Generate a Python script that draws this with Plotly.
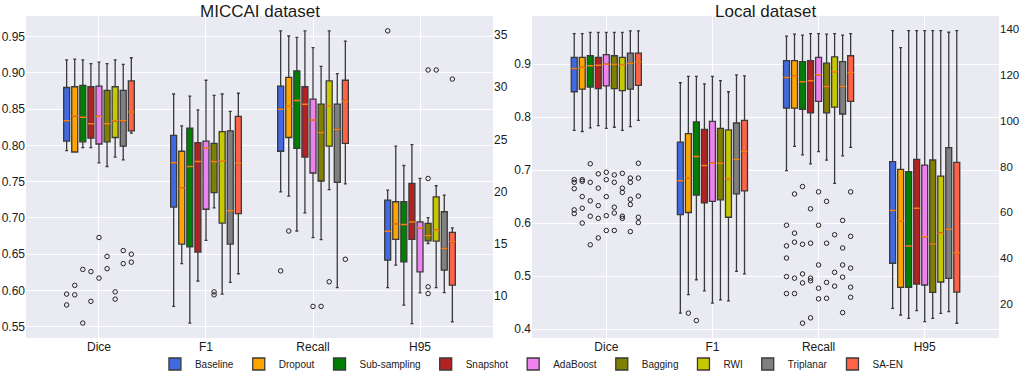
import plotly.graph_objects as go

methods = ["Baseline", "Dropout", "Sub-sampling", "Snapshot", "AdaBoost",
           "Bagging", "RWI", "Triplanar", "SA-EN"]
colors = ["#4169E1", "#FFA500", "#008000", "#B22222", "#EE82EE",
          "#808000", "#C8C800", "#808080", "#FF6347"]
categories = ["Dice", "F1", "Recall", "H95"]
panel_titles = ["MICCAI dataset", "Local dataset"]

# ---------------- MICCAI dataset ----------------
miccai_dice_lo = [0.793, 0.791, 0.797, 0.797, 0.776, 0.771, 0.784, 0.780, 0.817]
miccai_dice_q1 = [0.806, 0.791, 0.805, 0.810, 0.802, 0.805, 0.811, 0.799, 0.820]
miccai_dice_med = [0.834, 0.841, 0.839, 0.830, 0.840, 0.830, 0.834, 0.834, 0.846]
miccai_dice_q3 = [0.880, 0.881, 0.883, 0.881, 0.882, 0.876, 0.881, 0.876, 0.889]
miccai_dice_hi = [0.918, 0.919, 0.918, 0.913, 0.915, 0.913, 0.918, 0.912, 0.921]
miccai_dice_out = [[0.595, 0.580], [0.607, 0.594], [0.629, 0.555], [0.626, 0.585],
                   [0.673, 0.617], [0.647, 0.630], [0.598, 0.588], [0.655, 0.637],
                   [0.650, 0.639]]

miccai_f1_lo = [0.578, 0.637, 0.555, 0.613, 0.669, 0.714, 0.595, 0.611, 0.623]
miccai_f1_q1 = [0.715, 0.664, 0.660, 0.653, 0.712, 0.735, 0.693, 0.664, 0.706]
miccai_f1_med = [0.776, 0.741, 0.771, 0.778, 0.797, 0.778, 0.779, 0.710, 0.775]
miccai_f1_q3 = [0.814, 0.792, 0.824, 0.804, 0.806, 0.803, 0.819, 0.820, 0.840]
miccai_f1_hi = [0.871, 0.827, 0.868, 0.849, 0.890, 0.869, 0.871, 0.847, 0.872]
miccai_f1_out = [[], [], [], [], [], [0.598, 0.594], [], [], []]

miccai_recall_lo = [0.736, 0.730, 0.682, 0.707, 0.673, 0.670, 0.739, 0.604, 0.747]
miccai_recall_q1 = [0.792, 0.811, 0.796, 0.784, 0.762, 0.751, 0.799, 0.749, 0.803]
miccai_recall_med = [0.850, 0.854, 0.862, 0.857, 0.835, 0.818, 0.854, 0.822, 0.861]
miccai_recall_q3 = [0.882, 0.894, 0.903, 0.881, 0.864, 0.857, 0.889, 0.857, 0.890]
miccai_recall_hi = [0.958, 0.951, 0.949, 0.958, 0.935, 0.909, 0.958, 0.899, 0.944]
miccai_recall_out = [[0.627], [0.682], [], [], [0.578], [0.578], [0.612], [], [0.643]]

miccai_h95_lo = [10.8, 12.96, 9.12, 7.36, 10.3, 15.03, 10.8, 10.33, 7.52]
miccai_h95_q1 = [13.43, 15.42, 13.27, 15.42, 12.32, 15.29, 15.26, 12.48, 11.04]
miccai_h95_med = [16.2, 16.9, 16.85, 17.08, 16.53, 15.8, 16.31, 14.55, 15.19]
miccai_h95_q3 = [19.19, 19.03, 19.03, 20.78, 17.11, 16.95, 19.5, 18.07, 16.09]
miccai_h95_hi = [20.14, 24.36, 22.5, 24.5, 21.26, 17.5, 20.56, 19.66, 16.53]
miccai_h95_out = [[35.4], [], [], [], [], [31.65, 21.26, 10.88, 10.24], [31.65], [], [30.78]]

# ---------------- Local dataset ----------------
local_dice_lo = [0.775, 0.773, 0.780, 0.784, 0.779, 0.781, 0.775, 0.782, 0.794]
local_dice_q1 = [0.848, 0.853, 0.857, 0.854, 0.859, 0.854, 0.850, 0.853, 0.860]
local_dice_med = [0.892, 0.894, 0.897, 0.898, 0.900, 0.900, 0.898, 0.902, 0.904]
local_dice_q3 = [0.913, 0.913, 0.916, 0.913, 0.918, 0.916, 0.913, 0.921, 0.921]
local_dice_hi = [0.958, 0.958, 0.960, 0.960, 0.960, 0.960, 0.960, 0.963, 0.963]
local_dice_out = [[0.682, 0.677, 0.665, 0.625, 0.618], [0.682, 0.679, 0.650, 0.628, 0.600],
                  [0.712, 0.677, 0.642, 0.613, 0.559], [0.693, 0.666, 0.633, 0.609, 0.572],
                  [0.696, 0.682, 0.650, 0.614, 0.586], [0.691, 0.677, 0.630, 0.619, 0.586],
                  [0.694, 0.666, 0.658, 0.613, 0.609], [0.685, 0.677, 0.645, 0.635, 0.584],
                  [0.713, 0.685, 0.651, 0.611, 0.601]]

local_f1_lo = [0.430, 0.465, 0.493, 0.472, 0.449, 0.455, 0.453, 0.509, 0.504]
local_f1_q1 = [0.616, 0.620, 0.653, 0.638, 0.641, 0.644, 0.611, 0.655, 0.661]
local_f1_med = [0.680, 0.686, 0.726, 0.709, 0.713, 0.713, 0.684, 0.720, 0.735]
local_f1_q3 = [0.753, 0.769, 0.791, 0.777, 0.792, 0.779, 0.776, 0.789, 0.794]
local_f1_hi = [0.865, 0.877, 0.877, 0.863, 0.877, 0.869, 0.848, 0.880, 0.878]
local_f1_out = [[], [0.430], [0.416], [], [], [], [], [], []]

local_recall_lo = [0.699, 0.745, 0.729, 0.712, 0.735, 0.719, 0.675, 0.727, 0.743]
local_recall_q1 = [0.817, 0.817, 0.815, 0.808, 0.830, 0.808, 0.819, 0.806, 0.830]
local_recall_med = [0.875, 0.877, 0.867, 0.869, 0.880, 0.858, 0.886, 0.858, 0.884]
local_recall_q3 = [0.907, 0.907, 0.905, 0.907, 0.913, 0.902, 0.914, 0.905, 0.916]
local_recall_hi = [0.953, 0.957, 0.955, 0.958, 0.958, 0.957, 0.958, 0.955, 0.958]
local_recall_out = [[0.596, 0.557, 0.534, 0.499, 0.467], [0.655, 0.581, 0.564, 0.496, 0.467],
                    [0.669, 0.560, 0.504, 0.487, 0.411], [0.627, 0.562, 0.496, 0.491, 0.421],
                    [0.659, 0.596, 0.521, 0.477, 0.457], [0.641, 0.562, 0.488, 0.458],
                    [0.578, 0.507, 0.481], [0.605, 0.553, 0.521, 0.498, 0.431],
                    [0.659, 0.575, 0.515, 0.479, 0.460]]

local_h95_lo = [18.1, 15.2, 13.7, 17.1, 12.3, 13.7, 15.9, 16.7, 11.6]
local_h95_q1 = [37.8, 27.3, 27.3, 28.7, 28.3, 25.1, 29.6, 31.2, 25.2]
local_h95_med = [60.8, 56.4, 45.3, 61.8, 49.4, 46.2, 50.9, 52.6, 42.4]
local_h95_q3 = [82.2, 78.8, 77.8, 83.2, 80.7, 82.9, 75.9, 88.3, 81.9]
local_h95_hi = [139.4, 132.0, 139.4, 139.4, 139.4, 139.4, 139.4, 138.7, 139.4]
local_h95_out = [[], [], [], [], [], [], [], [], []]

# (lo, q1, med, q3, hi, outliers) per metric, per panel
panels = [
    {
        "Dice": (miccai_dice_lo, miccai_dice_q1, miccai_dice_med, miccai_dice_q3, miccai_dice_hi, miccai_dice_out),
        "F1": (miccai_f1_lo, miccai_f1_q1, miccai_f1_med, miccai_f1_q3, miccai_f1_hi, miccai_f1_out),
        "Recall": (miccai_recall_lo, miccai_recall_q1, miccai_recall_med, miccai_recall_q3, miccai_recall_hi, miccai_recall_out),
        "H95": (miccai_h95_lo, miccai_h95_q1, miccai_h95_med, miccai_h95_q3, miccai_h95_hi, miccai_h95_out),
    },
    {
        "Dice": (local_dice_lo, local_dice_q1, local_dice_med, local_dice_q3, local_dice_hi, local_dice_out),
        "F1": (local_f1_lo, local_f1_q1, local_f1_med, local_f1_q3, local_f1_hi, local_f1_out),
        "Recall": (local_recall_lo, local_recall_q1, local_recall_med, local_recall_q3, local_recall_hi, local_recall_out),
        "H95": (local_h95_lo, local_h95_q1, local_h95_med, local_h95_q3, local_h95_hi, local_h95_out),
    },
]

FONT = "Liberation Sans, Arial, sans-serif"
EDGE = "#3a3a3a"
MEDIAN = "#FF7F0E"
W, H = 1021, 372

fig = go.Figure()
axis_pairs = [("x", "y", "y2"), ("x2", "y3", "y4")]

median_traces = []
for p, stats in enumerate(panels):
    xa, ya_left, ya_right = axis_pairs[p]
    for m, name in enumerate(methods):
        for cats, ya in ((categories[:3], ya_left), (categories[3:], ya_right)):
            lo = [stats[c][0][m] for c in cats]
            q1 = [stats[c][1][m] for c in cats]
            med = [stats[c][2][m] for c in cats]
            q3 = [stats[c][3][m] for c in cats]
            hi = [stats[c][4][m] for c in cats]
            pts = [stats[c][5][m] for c in cats]
            has_pts = any(len(v) > 0 for v in pts)
            extra = dict(y=pts, boxpoints="outliers", pointpos=0, jitter=0) if has_pts \
                else dict(boxpoints=False)
            fig.add_trace(go.Box(
                x=cats, q1=q1, median=med, q3=q3, lowerfence=lo, upperfence=hi,
                name=name, legendgroup=name, offsetgroup=name,
                showlegend=(p == 0 and ya == "y"),
                fillcolor=colors[m], line=dict(color=EDGE, width=1.3),
                whiskerwidth=0.5,
                marker=dict(symbol="circle-open", size=4.5, color="#222222",
                            line=dict(width=1, color="#222222")),
                xaxis=xa, yaxis=ya, hoverinfo="skip", **extra,
            ))
            median_traces.append(go.Box(
                x=cats, q1=med, median=med, q3=med, lowerfence=med, upperfence=med,
                boxpoints=False, name=name, legendgroup=name, offsetgroup=name,
                showlegend=False, fillcolor="rgba(0,0,0,0)",
                line=dict(color=MEDIAN, width=1.5), whiskerwidth=0,
                xaxis=xa, yaxis=ya, hoverinfo="skip",
            ))
for t in median_traces:
    fig.add_trace(t)

ydom = [1 - 338 / H, 1 - 16 / H]
tickfont = dict(family=FONT, size=12, color="#1a1a1a")
common_x = dict(type="category", categoryorder="array", categoryarray=categories,
                showgrid=True, gridcolor="white", gridwidth=1, zeroline=False,
                showline=False, ticks="", tickfont=tickfont, automargin=False)
common_y = dict(zeroline=False, showline=False, ticks="", automargin=False)

fig.update_layout(
    width=W, height=H,
    margin=dict(l=0, r=0, t=0, b=0, pad=0, autoexpand=False),
    paper_bgcolor="white", plot_bgcolor="#EAEAF2",
    boxmode="group", boxgap=0.32, boxgroupgap=0.26,
    font=dict(family=FONT, color="#1a1a1a"),
    xaxis=dict(domain=[26 / W, 493 / W], anchor="y", range=[-0.682, 3.682], **common_x),
    yaxis=dict(domain=ydom, anchor="x", range=[0.5344, 0.9786], dtick=0.05, tick0=0,
               tickformat=".2f", showgrid=True, gridcolor="white", tickfont=tickfont,
               **common_y),
    yaxis2=dict(overlaying="y", anchor="x", side="right", range=[5.98, 36.82],
                dtick=5, tick0=0, showgrid=False, tickfont=tickfont, **common_y),
    xaxis2=dict(domain=[532 / W, 999 / W], anchor="y3", range=[-0.70, 3.70], **common_x),
    yaxis3=dict(domain=ydom, anchor="x2", range=[0.383, 0.9911], dtick=0.1, tick0=0,
                tickformat=".1f", showgrid=True, gridcolor="white", tickfont=tickfont,
                **common_y),
    yaxis4=dict(overlaying="y3", anchor="x2", side="right", range=[5.15, 145.8],
                dtick=20, tick0=0, showgrid=False,
                tickfont=dict(family=FONT, size=11.5, color="#1a1a1a"), **common_y),
    legend=dict(orientation="h", x=0.521, xanchor="center", y=1 - 364 / H,
                yanchor="middle", font=dict(family=FONT, size=10, color="#1a1a1a"),
                bgcolor="rgba(0,0,0,0)", itemwidth=30, traceorder="normal"),
    showlegend=True,
)

for title, cx in zip(panel_titles, [(26 + 493) / 2 / W, (532 + 999) / 2 / W]):
    fig.add_annotation(text=title, x=cx, y=1.0, xref="paper", yref="paper",
                       xanchor="center", yanchor="top", showarrow=False,
                       font=dict(family=FONT, size=17, color="#1a1a1a"))

fig.write_html("out.html", config={"displayModeBar": False},
               post_script="document.body.style.margin='0';document.body.style.padding='0';")
